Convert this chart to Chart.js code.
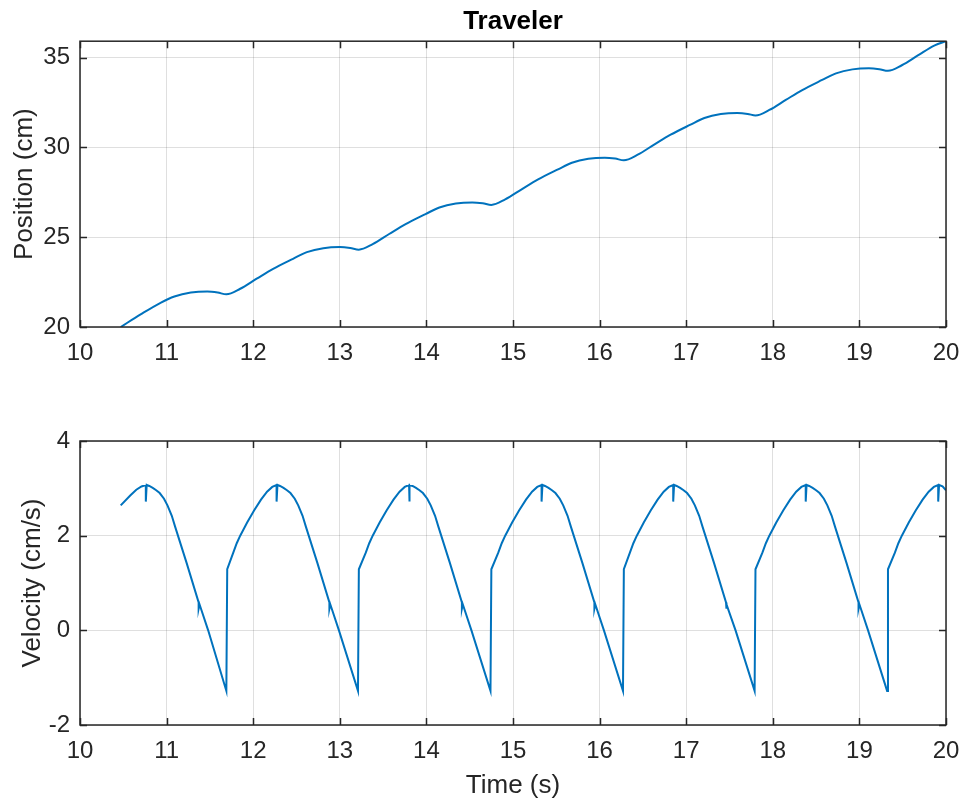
<!DOCTYPE html>
<html>
<head>
<meta charset="utf-8">
<title>Traveler</title>
<script src="https://cdn.jsdelivr.net/npm/chart.js"></script>
<style>
  html, body { margin: 0; padding: 0; background: #fff; }
  #wrap { position: relative; width: 963px; height: 804px; }
  .pane { position: absolute; left: 0; width: 963px; }
  #topPane { top: 0; height: 400px; }
  #botPane { top: 400px; height: 404px; }
</style>
</head>
<body>
<div id="wrap">
  <div class="pane" id="topPane"><canvas id="posChart"></canvas></div>
  <div class="pane" id="botPane"><canvas id="velChart"></canvas></div>
</div>
<script>
// values
const posTime = [
  10.47, 10.70, 10.93, 11.09, 11.28, 11.47, 11.59, 11.69,
  11.85, 12.04, 12.23, 12.46, 12.62, 12.81, 13.00, 13.12, 13.22,
  13.38, 13.57, 13.76, 13.99, 14.15, 14.34, 14.53, 14.65, 14.75,
  14.91, 15.10, 15.29, 15.52, 15.68, 15.87, 16.06, 16.18, 16.28,
  16.44, 16.63, 16.82, 17.05, 17.21, 17.40, 17.59, 17.71, 17.80,
  17.96, 18.15, 18.34, 18.57, 18.73, 18.92, 19.11, 19.23, 19.33,
  19.49, 19.68, 19.87, 20.00
];
const position = [
  20.00, 20.70, 21.35, 21.70, 21.92, 21.98, 21.92, 21.82,
  22.13, 22.69, 23.24, 23.80, 24.17, 24.39, 24.45, 24.40, 24.31,
  24.62, 25.18, 25.73, 26.29, 26.66, 26.88, 26.94, 26.89, 26.80,
  27.11, 27.67, 28.22, 28.78, 29.15, 29.37, 29.43, 29.38, 29.29,
  29.60, 30.16, 30.71, 31.27, 31.64, 31.86, 31.92, 31.87, 31.78,
  32.09, 32.65, 33.20, 33.76, 34.13, 34.35, 34.41, 34.36, 34.27,
  34.58, 35.14, 35.69, 35.92
];

const velTime = [
  10.47, 10.58, 10.65, 10.71, 10.76, 10.76, 10.77, 10.80, 10.84, 10.88, 10.92, 10.97, 11.01, 11.06, 11.10, 11.23, 11.37, 11.37, 11.38, 11.48, 11.69, 11.70,
  11.77, 11.81, 11.85, 11.93, 12.01, 12.09, 12.16, 12.22, 12.27, 12.27, 12.28, 12.31, 12.35, 12.39, 12.43, 12.48, 12.52, 12.57, 12.61, 12.74, 12.88, 12.88, 12.89, 12.99, 13.21, 13.22,
  13.30, 13.34, 13.38, 13.46, 13.54, 13.62, 13.69, 13.75, 13.80, 13.80, 13.81, 13.84, 13.88, 13.92, 13.96, 14.01, 14.05, 14.10, 14.14, 14.27, 14.41, 14.41, 14.42, 14.52, 14.74, 14.75,
  14.83, 14.87, 14.91, 14.99, 15.07, 15.15, 15.22, 15.28, 15.33, 15.33, 15.34, 15.37, 15.41, 15.45, 15.49, 15.54, 15.58, 15.63, 15.67, 15.80, 15.94, 15.94, 15.95, 16.05, 16.27, 16.28,
  16.35, 16.39, 16.43, 16.51, 16.59, 16.67, 16.74, 16.80, 16.85, 16.85, 16.86, 16.89, 16.93, 16.97, 17.01, 17.06, 17.10, 17.15, 17.19, 17.32, 17.46, 17.46, 17.47, 17.57, 17.79, 17.80,
  17.88, 17.92, 17.96, 18.04, 18.12, 18.20, 18.27, 18.33, 18.38, 18.38, 18.39, 18.42, 18.46, 18.50, 18.54, 18.59, 18.63, 18.68, 18.72, 18.85, 18.99, 18.99, 19.00, 19.10, 19.32, 19.33,
  19.41, 19.45, 19.49, 19.57, 19.65, 19.73, 19.80, 19.86, 19.91, 19.91, 19.92, 19.96, 20.00
];
const velocity = [
  2.64, 2.85, 2.97, 3.04, 3.07, 2.72, 3.07, 3.05, 3.01, 2.96, 2.90, 2.78, 2.64, 2.42, 2.18, 1.43, 0.59, 0.46, 0.55, 0.00, -1.28, 1.29,
  1.64, 1.84, 2.00, 2.28, 2.53, 2.76, 2.93, 3.03, 3.07, 2.72, 3.07, 3.05, 3.01, 2.96, 2.90, 2.78, 2.64, 2.42, 2.18, 1.43, 0.59, 0.46, 0.55, 0.00, -1.28, 1.29,
  1.64, 1.84, 2.00, 2.28, 2.53, 2.76, 2.93, 3.03, 3.07, 2.72, 3.07, 3.05, 3.01, 2.96, 2.90, 2.78, 2.64, 2.42, 2.18, 1.43, 0.59, 0.46, 0.55, 0.00, -1.28, 1.29,
  1.64, 1.84, 2.00, 2.28, 2.53, 2.76, 2.93, 3.03, 3.07, 2.72, 3.07, 3.05, 3.01, 2.96, 2.90, 2.78, 2.64, 2.42, 2.18, 1.43, 0.59, 0.46, 0.55, 0.00, -1.28, 1.29,
  1.64, 1.84, 2.00, 2.28, 2.53, 2.76, 2.93, 3.03, 3.07, 2.72, 3.07, 3.05, 3.01, 2.96, 2.90, 2.78, 2.64, 2.42, 2.18, 1.43, 0.59, 0.46, 0.55, 0.00, -1.28, 1.29,
  1.64, 1.84, 2.00, 2.28, 2.53, 2.76, 2.93, 3.03, 3.07, 2.72, 3.07, 3.05, 3.01, 2.96, 2.90, 2.78, 2.64, 2.42, 2.18, 1.43, 0.59, 0.46, 0.55, 0.00, -1.28, 1.29,
  1.64, 1.84, 2.00, 2.28, 2.53, 2.76, 2.93, 3.03, 3.07, 2.72, 3.07, 3.04, 2.96
];

const timeTicks = [10, 11, 12, 13, 14, 15, 16, 17, 18, 19, 20];
const posTicks = [20, 25, 30, 35];
const velTicks = [-2, 0, 2, 4];

const INK = "#262626";
const LINE = "#0072BD";
const FONT = "'Liberation Sans', Arial, Helvetica, sans-serif";

// matlab style: dark box round the axes, short ticks pointing inward
const axesBox = {
  id: "axesBox",
  afterDatasetsDraw(chart) {
    const { ctx, chartArea: a, scales } = chart;
    const len = 7;
    ctx.save();
    ctx.strokeStyle = INK;
    ctx.lineWidth = 1.5;
    ctx.beginPath();
    scales.x.ticks.forEach((t) => {
      const px = Math.round(scales.x.getPixelForValue(t.value)) + 0.5;
      ctx.moveTo(px, a.bottom); ctx.lineTo(px, a.bottom - len);
      ctx.moveTo(px, a.top); ctx.lineTo(px, a.top + len);
    });
    scales.y.ticks.forEach((t) => {
      const py = Math.round(scales.y.getPixelForValue(t.value)) + 0.5;
      ctx.moveTo(a.left, py); ctx.lineTo(a.left + len, py);
      ctx.moveTo(a.right, py); ctx.lineTo(a.right - len, py);
    });
    ctx.stroke();
    ctx.strokeRect(a.left, a.top, a.right - a.left, a.bottom - a.top);
    ctx.restore();
  },
};

function pairs(xs, ys) {
  return xs.map((x, i) => ({ x, y: ys[i] }));
}

function makeChart(id, cfg) {
  const ctx = document.getElementById(id).getContext("2d");
  return new Chart(ctx, {
    type: "scatter",
    data: {
      datasets: [{
        data: pairs(cfg.xs, cfg.ys),
        showLine: true,
        borderColor: LINE,
        borderWidth: 2,
        pointRadius: 0,
        tension: cfg.tension,
        cubicInterpolationMode: cfg.cubic,
      }],
    },
    options: {
      responsive: true,
      maintainAspectRatio: false,
      animation: false,
      events: [],
      layout: { padding: { left: 0, right: 17, top: cfg.padTop, bottom: 0 } },
      plugins: {
        legend: { display: false },
        tooltip: { enabled: false },
        title: {
          display: !!cfg.title,
          text: cfg.title || "",
          fullSize: false,
          color: "#000",
          font: { family: FONT, size: 26, weight: "bold" },
          padding: { top: 6, bottom: 4 },
        },
      },
      scales: {
        x: {
          type: "linear",
          min: 10,
          max: 20,
          afterBuildTicks: (s) => { s.ticks = timeTicks.map((v) => ({ value: v })); },
          afterFit: (s) => {
            s.height = cfg.xAxisH;
            s.paddingLeft = 0;
            s.paddingRight = 0;
          },
          grid: { color: "rgba(38,38,38,0.15)", drawTicks: false },
          border: { display: false },
          ticks: {
            color: INK,
            padding: 12,
            maxRotation: 0,
            font: { family: FONT, size: 24 },
            callback: (v) => String(v),
          },
          title: {
            display: !!cfg.xTitle,
            text: cfg.xTitle || "",
            color: INK,
            font: { family: FONT, size: 26 },
            padding: { top: 0, bottom: 3 },
          },
        },
        y: {
          type: "linear",
          min: cfg.yMin,
          max: cfg.yMax,
          afterBuildTicks: (s) => { s.ticks = cfg.yTicks.map((v) => ({ value: v })); },
          afterFit: (s) => { s.width = 80; },
          grid: { color: "rgba(38,38,38,0.15)", drawTicks: false },
          border: { display: false },
          ticks: {
            color: INK,
            padding: 10,
            font: { family: FONT, size: 24 },
            callback: (v) => String(v),
          },
          title: {
            display: true,
            text: cfg.yTitle,
            color: INK,
            font: { family: FONT, size: 26 },
            padding: { top: cfg.yTitlePad, bottom: 0 },
          },
        },
      },
    },
    plugins: [axesBox],
  });
}

makeChart("posChart", {
  xs: posTime, ys: position,
  tension: 0.4, cubic: "monotone",
  title: "Traveler",
  padTop: 0,
  xAxisH: 73,
  yMin: 20, yMax: 35.92, yTicks: posTicks,
  yTitle: "Position (cm)", yTitlePad: 9,
});

makeChart("velChart", {
  xs: velTime, ys: velocity,
  tension: 0, cubic: "default",
  padTop: 41,
  xAxisH: 79,
  xTitle: "Time (s)",
  yMin: -2, yMax: 4, yTicks: velTicks,
  yTitle: "Velocity (cm/s)", yTitlePad: 17,
});
</script>
</body>
</html>
